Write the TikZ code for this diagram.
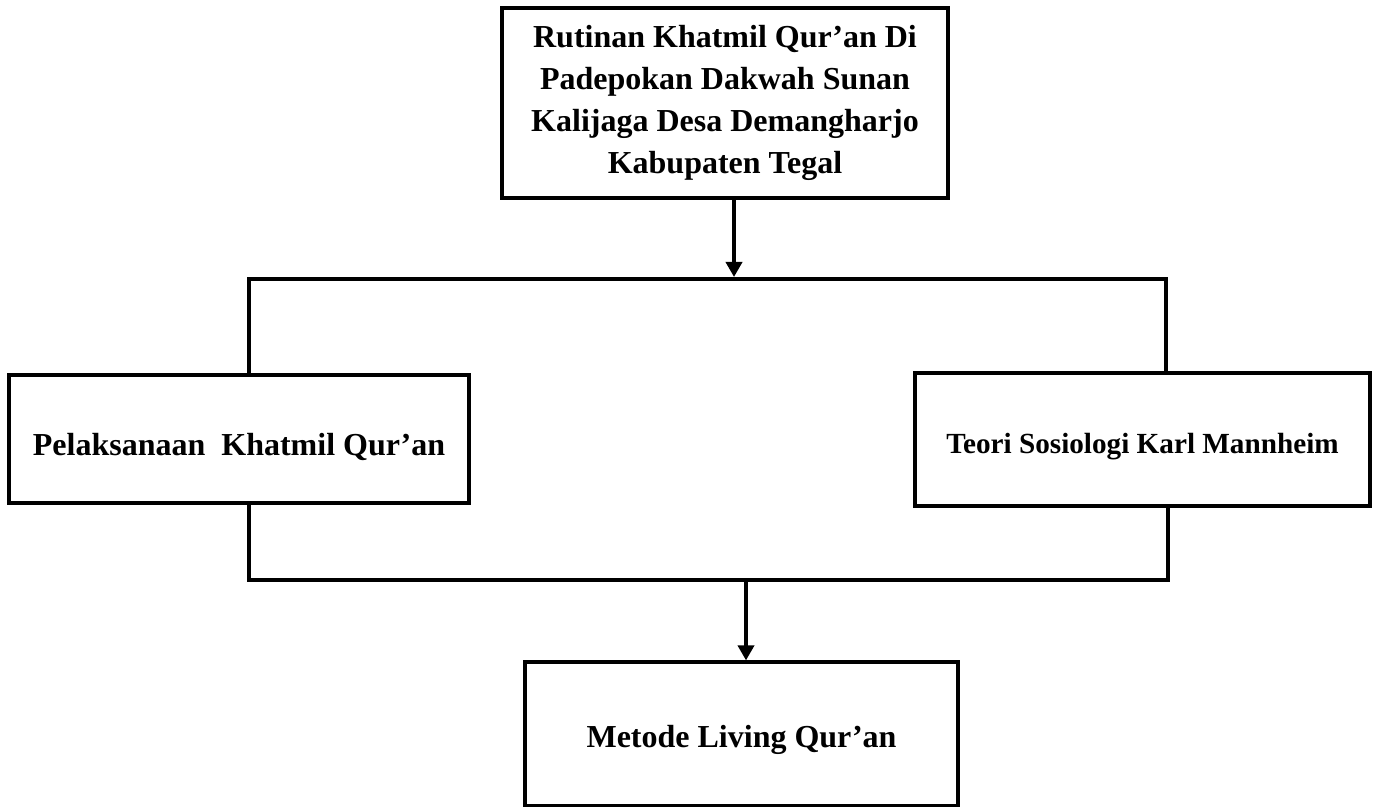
\documentclass[tikz,border=0pt]{standalone}
\usepackage{fontspec}
\setmainfont{Liberation Serif}
\usetikzlibrary{arrows.meta}
\newcommand{\lowered}[2]{\raisebox{-#1}[\height][\depth]{#2}}
\tikzset{
  x=0.5pt, y=-0.5pt,
  boxnode/.style={draw=black, line width=1.6pt, fill=white, inner sep=0pt, align=center, font=\bfseries\fontsize{16pt}{21pt}\selectfont},
  conn/.style={draw=black, line width=1.8pt, line join=miter},
  arr/.style={conn, -{Triangle[width=8pt,length=7.5pt]}},
}
\begin{document}
\begin{tikzpicture}
\useasboundingbox (0,0) rectangle (1375,807);
\node[boxnode, minimum width=223pt, minimum height=95pt] (top) at (725,103)
  {Rutinan Khatmil Qur’an Di\\Padepokan Dakwah Sunan\\Kalijaga Desa Demangharjo\\Kabupaten Tegal};
\node[boxnode, minimum width=230pt, minimum height=64pt] (left) at (239,439)
  {\lowered{4pt}{Pelaksanaan~ Khatmil Qur’an}};
\node[boxnode, minimum width=227.5pt, minimum height=66.5pt, font=\bfseries\fontsize{14.6pt}{18pt}\selectfont] (right) at (1142.5,439.5)
  {\lowered{3.5pt}{Teori Sosiologi Karl Mannheim}};
\node[boxnode, minimum width=216.5pt, minimum height=72pt] (bottom) at (741.5,734)
  {\lowered{3pt}{Metode Living Qur’an}};
\coordinate (j1) at (734,277);
\coordinate (lv) at (249,279);
\coordinate (rv) at (1166,279);
\coordinate (lb) at (249,580);
\coordinate (rb) at (1168,580);
\coordinate (j2) at (746,580);
\draw[arr] (top.south -| j1) -- (j1);
\draw[conn] (left.north -| lv) -- (lv) -- (rv) -- (right.north -| rv);
\draw[conn] (left.south -| lb) -- (lb) -- (rb) -- (right.south -| rb);
\draw[arr] (j2) -- (bottom.north -| j2);
\end{tikzpicture}
\end{document}
